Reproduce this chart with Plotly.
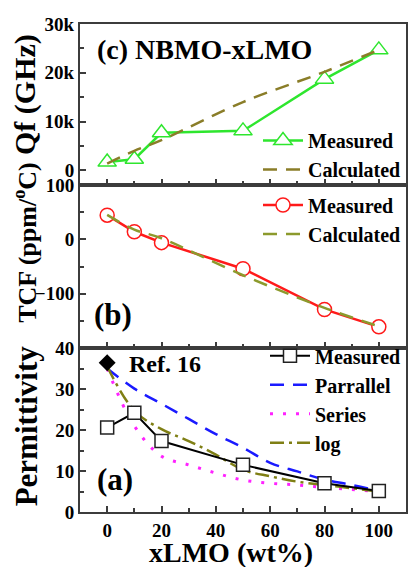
import plotly.graph_objects as go
from plotly.subplots import make_subplots

# ---- data ----
x_meas = [0, 10, 20, 50, 80, 100]

qf_measured = [1700, 2300, 7700, 8100, 18700, 24700]
qf_calc_x = [0, 10, 20, 50, 80, 100]
qf_calculated = [1400, 4000, 6200, 14000, 20200, 24700]

tcf_measured = [44.5, 14, -6, -54, -129, -161]
tcf_calc_x = [0, 10, 20, 50, 80, 100]
tcf_calculated = [45, 18, 2, -66, -126, -160]

perm_measured = [20.6, 24.2, 17.3, 11.5, 7.0, 5.1]
model_x = [0, 10, 20, 30, 40, 50, 60, 70, 80, 90, 100]
perm_parallel = [35.0, 30.1, 26.4, 22.7, 19.0, 15.7, 12.0, 9.9, 7.9, 6.6, 5.1]
perm_series = [35.0, 21.0, 13.6, 11.5, 9.5, 7.8, 7.0, 6.6, 6.0, 5.5, 5.0]
perm_log = [35.5, 24.7, 20.2, 17.3, 14.0, 10.3, 8.7, 7.4, 6.6, 5.8, 5.0]
ref16_x = [0]
ref16_y = [36.4]

x_ticks = [0, 20, 40, 60, 80, 100]
qf_ticks = [0, 10000, 20000, 30000]
qf_ticktext = ["0", "10k", "20k", "30k"]
tcf_ticks = [-100, 0, 100]
perm_ticks = [0, 10, 20, 30, 40]

FONT = "Liberation Serif"
AX = "#3c3c3c"
GREEN = "#2ee62e"
OLIVE_C = "#8a7d28"
OLIVE_B = "#8c9a2c"
OLIVE_A = "#7f7f14"

fig = make_subplots(rows=3, cols=1, shared_xaxes=True, vertical_spacing=0)

# panel c
fig.add_trace(go.Scatter(x=x_meas, y=qf_measured, mode="lines+markers", name="Measured",
                         line=dict(color=GREEN, width=2.5),
                         marker=dict(symbol="triangle-up", size=16, color="white",
                                     line=dict(color=GREEN, width=1.5)),
                         legend="legend"), row=1, col=1)
fig.add_trace(go.Scatter(x=qf_calc_x, y=qf_calculated, mode="lines", name="Calculated",
                         line=dict(color=OLIVE_C, width=2.5, dash="14px,9px", shape="spline"),
                         legend="legend"), row=1, col=1)

# panel b
fig.add_trace(go.Scatter(x=x_meas, y=tcf_measured, mode="lines+markers", name="Measured",
                         line=dict(color="#ff1a1a", width=2.5),
                         marker=dict(symbol="circle", size=14, color="white",
                                     line=dict(color="#ff1a1a", width=1.5)),
                         legend="legend2"), row=2, col=1)
fig.add_trace(go.Scatter(x=tcf_calc_x, y=tcf_calculated, mode="lines", name="Calculated",
                         line=dict(color=OLIVE_B, width=2.5, dash="14px,9px", shape="spline"),
                         legend="legend2"), row=2, col=1)

# panel a
fig.add_trace(go.Scatter(x=model_x, y=perm_parallel, mode="lines", name="Parrallel",
                         line=dict(color="#1a1aff", width=2.5, dash="14px,9px", shape="spline"),
                         legend="legend3", legendrank=2), row=3, col=1)
fig.add_trace(go.Scatter(x=model_x, y=perm_series, mode="lines", name="Series",
                         line=dict(color="#ff22ff", width=3, dash="3px,10px", shape="spline"),
                         legend="legend3", legendrank=3), row=3, col=1)
fig.add_trace(go.Scatter(x=model_x, y=perm_log, mode="lines", name="log",
                         line=dict(color=OLIVE_A, width=2.5, dash="14px,5px,3px,5px", shape="spline"),
                         legend="legend3", legendrank=4), row=3, col=1)
fig.add_trace(go.Scatter(x=x_meas, y=perm_measured, mode="lines+markers", name="Measured",
                         line=dict(color="black", width=2),
                         marker=dict(symbol="square", size=13, color="white",
                                     line=dict(color="#222", width=1.5)),
                         legend="legend3", legendrank=1), row=3, col=1)
fig.add_trace(go.Scatter(x=ref16_x, y=ref16_y, mode="markers", showlegend=False,
                         marker=dict(symbol="diamond", size=13, color="black")), row=3, col=1)

axis_common = dict(showline=True, linecolor=AX, linewidth=2, mirror=True,
                   ticks="inside", ticklen=6, tickwidth=1.5, tickcolor=AX,
                   showgrid=False, zeroline=False,
                   tickfont=dict(family=FONT, size=19, color="black", weight="bold"))

for r in (1, 2, 3):
    fig.update_xaxes(range=[-10, 110], tickvals=x_ticks,
                     minor=dict(dtick=10, tick0=0, ticks="inside", ticklen=4, tickcolor=AX, tickwidth=1.5),
                     showticklabels=(r == 3), row=r, col=1, **axis_common)

fig.update_yaxes(range=[-3000, 30000], tickvals=qf_ticks, ticktext=qf_ticktext,
                 minor=dict(tickvals=[5000, 15000, 25000], ticks="inside", ticklen=4, tickcolor=AX, tickwidth=1.5),
                 row=1, col=1, **axis_common)
fig.update_yaxes(range=[-200, 100], tickvals=tcf_ticks,
                 minor=dict(tickvals=[-150, -50, 50], ticks="inside", ticklen=4, tickcolor=AX, tickwidth=1.5),
                 row=2, col=1, **axis_common)
fig.update_yaxes(range=[0, 40], tickvals=perm_ticks,
                 minor=dict(tickvals=[5, 15, 25, 35], ticks="inside", ticklen=4, tickcolor=AX, tickwidth=1.5),
                 row=3, col=1, **axis_common)

# domains
fig.update_layout(
    yaxis=dict(domain=[0.670, 1.0]),
    yaxis2=dict(domain=[0.336, 0.670]),
    yaxis3=dict(domain=[0.0, 0.336]),
)

legfont = dict(family=FONT, size=20, color="black", weight="bold")
fig.update_layout(
    width=410, height=567,
    margin=dict(l=80, r=2, t=24, b=55),
    paper_bgcolor="white", plot_bgcolor="white",
    font=dict(family=FONT, color="black"),
    legend=dict(x=1.0, xanchor="right", y=0.662, yanchor="bottom", bgcolor="rgba(0,0,0,0)",
                font=legfont, itemwidth=40, borderwidth=0),
    legend2=dict(x=1.0, xanchor="right", y=0.669, yanchor="top", bgcolor="rgba(0,0,0,0)",
                 font=legfont, itemwidth=40),
    legend3=dict(x=1.0, xanchor="right", y=0.360, yanchor="top", bgcolor="rgba(0,0,0,0)",
                 font=legfont, itemwidth=40),
)

ann_font = dict(family=FONT, color="black", weight="bold")
annots = [
    dict(text="(c) NBMO-xLMO", x=-4.5, y=24800, xref="x", yref="y", xanchor="left", yanchor="middle",
         font=dict(size=28, **ann_font)),
    dict(text="(b)", x=-5.5, y=-138, xref="x2", yref="y2", xanchor="left", yanchor="middle",
         font=dict(size=31, **ann_font)),
    dict(text="(a)", x=-4.5, y=8, xref="x3", yref="y3", xanchor="left", yanchor="middle",
         font=dict(size=31, **ann_font)),
    dict(text="Ref. 16", x=7.3, y=36.0, xref="x3", yref="y3", xanchor="left", yanchor="middle",
         font=dict(size=24, **ann_font)),
    dict(text="Qf (GHz)", x=-0.168, y=0.855, xref="paper", yref="paper", textangle=-90,
         xanchor="center", yanchor="middle", font=dict(size=30, **ann_font)),
    dict(text="TCF (ppm/<sup>o</sup>C)", x=-0.168, y=0.552, xref="paper", yref="paper", textangle=-90,
         xanchor="center", yanchor="middle", font=dict(size=26, **ann_font)),
    dict(text="Permittivity", x=-0.165, y=0.176, xref="paper", yref="paper", textangle=-90,
         xanchor="center", yanchor="middle", font=dict(size=31, **ann_font)),
    dict(text="xLMO (wt%)", x=0.463, y=-0.083, xref="paper", yref="paper",
         xanchor="center", yanchor="middle", font=dict(size=28, **ann_font)),
]
for a in annots:
    a["showarrow"] = False
fig.update_layout(annotations=annots)

fig.write_html("out.html", config={"displayModeBar": False},
               post_script="document.body.style.margin='0px';document.body.style.overflow='hidden';")
